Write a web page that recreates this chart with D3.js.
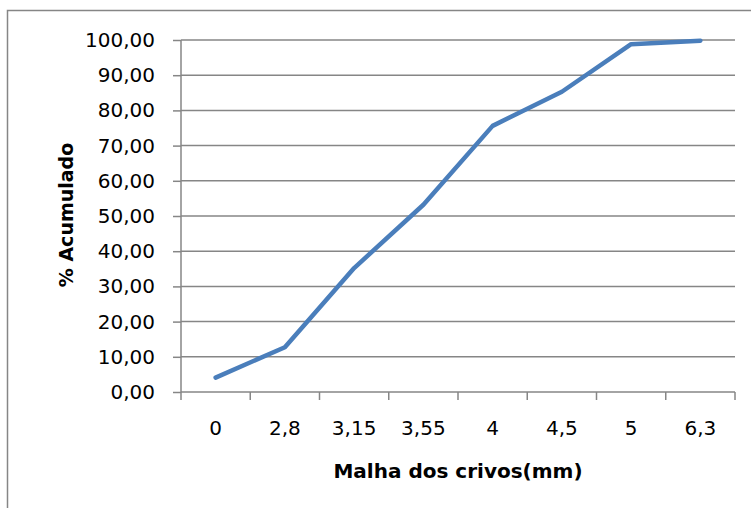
<!DOCTYPE html>
<html>
  <head>
    <meta charset="utf-8">
    <script src="https://d3js.org/d3.v7.min.js"></script>
    <style>
      body { margin: 0; background: #fff; }
      svg text { font-family: "DejaVu Sans", sans-serif; fill: #000; }
      .tick-label { font-size: 20px; }
      .axis-title { font-size: 20px; font-weight: bold; }
    </style>
  </head>
  <body>
    <div id="chart"></div>
<script>

// peneira (mm) e % acumulado
var malhas = ["0", "2,8", "3,15", "3,55", "4", "4,5", "5", "6,3"];
var acumulado = [4.1, 12.7, 35.2, 53.2, 75.6, 85.3, 98.8, 99.8];
var yTicks = [0, 10, 20, 30, 40, 50, 60, 70, 80, 90, 100];

var width = 751, height = 508;
var plotLeft = 181, plotRight = 735, plotTop = 40, plotBottom = 392;
var grey = "#868686";

var svg = d3.select("#chart").append("svg")
  .attr("width", width)
  .attr("height", height);

// moldura do grafico
svg.append("rect")
  .attr("x", 7.5).attr("y", 10.5)
  .attr("width", 800).attr("height", 600)
  .attr("fill", "none")
  .attr("stroke", grey)
  .attr("stroke-width", 1.5);

var x = d3.scaleBand().domain(malhas).range([plotLeft, plotRight]);
var y = d3.scaleLinear().domain([0, 100]).range([plotBottom, plotTop]);

var br = d3.formatLocale({decimal: ",", thousands: ".", grouping: [3], currency: ["R$", ""]});
var fmt = br.format(".2f");

// linhas de grade
svg.append("g")
  .selectAll("line")
  .data(yTicks.slice(1))
  .enter().append("line")
  .attr("x1", plotLeft).attr("x2", plotRight)
  .attr("y1", function(d) { return y(d); })
  .attr("y2", function(d) { return y(d); })
  .attr("stroke", grey)
  .attr("stroke-width", 1.5);

// eixo y
var yAxis = svg.append("g")
  .attr("transform", "translate(" + plotLeft + ",0)")
  .call(d3.axisLeft(y).tickValues(yTicks).tickFormat(fmt).tickSize(8).tickPadding(18));
yAxis.selectAll("path, line").attr("stroke", grey).attr("stroke-width", 1.5);
yAxis.select("path").attr("d", "M0," + plotBottom + "V" + plotTop);
yAxis.attr("font-size", null).attr("font-family", null);
yAxis.selectAll("text").attr("class", "tick-label");

// eixo x (ticks nos limites das categorias)
var xAxis = svg.append("g")
  .attr("transform", "translate(0," + plotBottom + ")");
xAxis.append("line")
  .attr("x1", plotLeft).attr("x2", plotRight)
  .attr("stroke", grey).attr("stroke-width", 1.5);
var edges = malhas.map(function(d) { return x(d); }).concat([plotRight]);
xAxis.selectAll(".xt")
  .data(edges)
  .enter().append("line")
  .attr("class", "xt")
  .attr("x1", function(d) { return d; }).attr("x2", function(d) { return d; })
  .attr("y1", 0).attr("y2", 8)
  .attr("stroke", grey).attr("stroke-width", 1.5);
xAxis.selectAll(".xl")
  .data(malhas)
  .enter().append("text")
  .attr("class", "tick-label")
  .attr("x", function(d) { return x(d) + x.bandwidth() / 2; })
  .attr("y", 43)
  .attr("text-anchor", "middle")
  .text(function(d) { return d; });

// serie
var line = d3.line()
  .x(function(d, i) { return x(malhas[i]) + x.bandwidth() / 2; })
  .y(function(d) { return y(d); });

svg.append("path")
  .datum(acumulado)
  .attr("d", line)
  .attr("fill", "none")
  .attr("stroke", "#4a7ebb")
  .attr("stroke-width", 4.5)
  .attr("stroke-linejoin", "round")
  .attr("stroke-linecap", "round");

// titulos
svg.append("text")
  .attr("class", "axis-title")
  .attr("x", (plotLeft + plotRight) / 2)
  .attr("y", 478)
  .attr("text-anchor", "middle")
  .text("Malha dos crivos(mm)");

svg.append("text")
  .attr("class", "axis-title")
  .attr("transform", "translate(73,215) rotate(-90)")
  .attr("text-anchor", "middle")
  .style("font-size", "19px")
  .text("% Acumulado");

</script>
  </body>
</html>
